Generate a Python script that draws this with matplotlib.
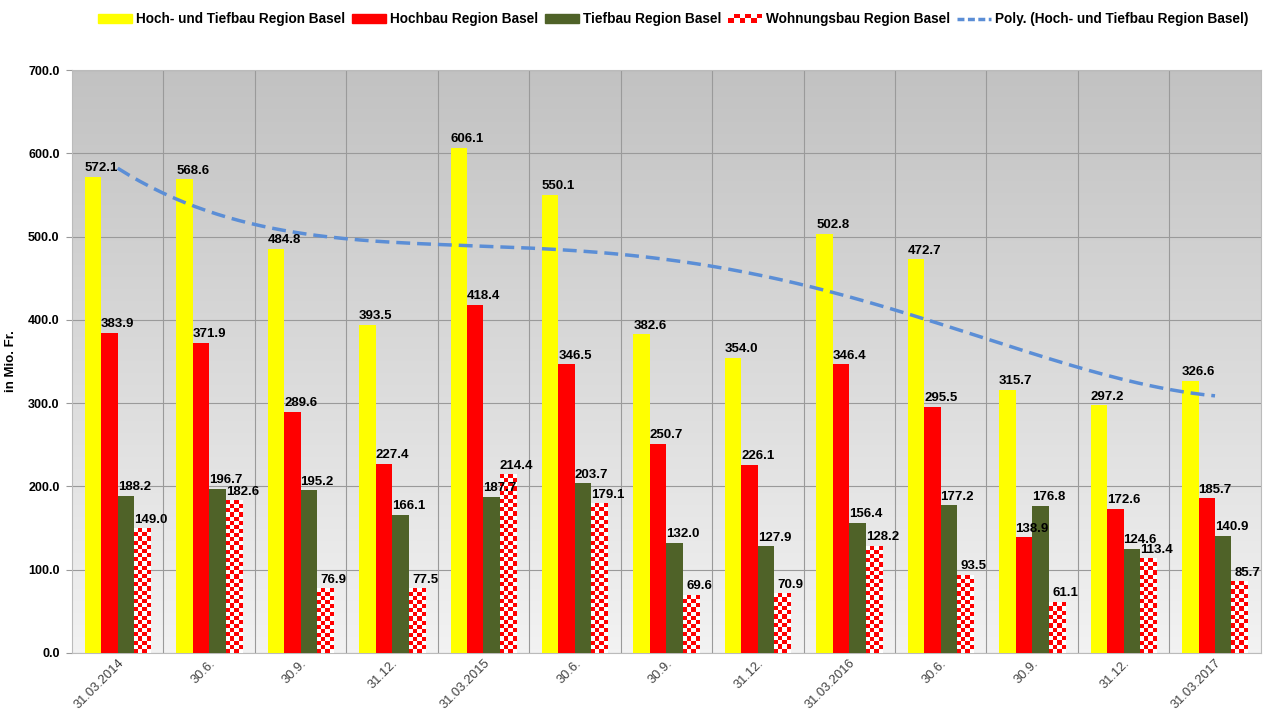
import numpy as np
import matplotlib
matplotlib.use("Agg")
from matplotlib import pyplot as plt
from matplotlib.patches import Rectangle, Patch
from matplotlib.lines import Line2D
from matplotlib.legend_handler import HandlerBase

# chart data (Mio. Fr.)
dates = ["31.03.2014", "30.6.", "30.9.", "31.12.", "31.03.2015", "30.6.", "30.9.",
         "31.12.", "31.03.2016", "30.6.", "30.9.", "31.12.", "31.03.2017"]
hoch_tief = [572.1, 568.6, 484.8, 393.5, 606.1, 550.1, 382.6, 354.0, 502.8, 472.7, 315.7, 297.2, 326.6]
hochbau = [383.9, 371.9, 289.6, 227.4, 418.4, 346.5, 250.7, 226.1, 346.4, 295.5, 138.9, 172.6, 185.7]
tiefbau = [188.2, 196.7, 195.2, 166.1, 187.7, 203.7, 132.0, 127.9, 156.4, 177.2, 176.8, 124.6, 140.9]
wohnbau = [149.0, 182.6, 76.9, 77.5, 214.4, 179.1, 69.6, 70.9, 128.2, 93.5, 61.1, 113.4, 85.7]

series_names = ["Hoch- und Tiefbau Region Basel", "Hochbau Region Basel",
                "Tiefbau Region Basel", "Wohnungsbau Region Basel"]
trend_name = "Poly. (Hoch- und Tiefbau Region Basel)"

YELLOW = "#ffff00"
RED = "#ff0000"
GREEN = "#4f6228"
BLUE = "#5b8ed6"

plt.rcParams["font.family"] = ["Liberation Sans", "DejaVu Sans"]

fig = plt.figure(figsize=(12.7, 7.13), dpi=100)
ax = fig.add_axes([0.0567, 0.0842, 0.936, 0.8176])

x = np.arange(len(dates))
w = 0.18
offsets = [-0.27, -0.09, 0.09, 0.27]

# gray gradient background
grad = np.linspace(0.76, 0.95, 256).reshape(-1, 1)
ax.imshow(np.dstack([grad, grad, grad]), extent=(0, 1, 0, 1), transform=ax.transAxes,
          aspect="auto", zorder=0, origin="upper")

ax.bar(x + offsets[0], hoch_tief, w, color=YELLOW, zorder=3)
ax.bar(x + offsets[1], hochbau, w, color=RED, zorder=3)
ax.bar(x + offsets[2], tiefbau, w, color=GREEN, zorder=3)

# checkered bars for Wohnungsbau
px_per_unit = 0.8176 * 713 / 700.0
cell_units = (w * 0.936 * 1270 / 13) / 4 / px_per_unit
red_rgb = np.array([1.0, 0.0, 0.0])
white_rgb = np.array([1.0, 1.0, 1.0])
for xi, h in zip(x + offsets[3], wohnbau):
    nrows = max(1, int(round(h / cell_units)))
    ii, jj = np.indices((nrows, 4))
    mask = ((ii + jj) % 2 == 0)[..., None]
    img = np.where(mask, red_rgb, white_rgb)
    ax.imshow(img, extent=(xi - w / 2, xi + w / 2, 0, h), aspect="auto",
              interpolation="nearest", zorder=3, origin="lower")

# value labels
for vals, off in zip([hoch_tief, hochbau, tiefbau, wohnbau], offsets):
    for xi, v in zip(x + off, vals):
        ax.annotate(f"{v:.1f}", (xi, v), xytext=(6, 2), textcoords="offset points",
                    ha="center", va="bottom", fontsize=9.5, fontweight="bold", zorder=5)

# polynomial trend of Hoch- und Tiefbau
coef = np.polyfit(x, hoch_tief, 4)
xs = np.linspace(x[0], x[-1], 200)
ax.plot(xs, np.polyval(coef, xs), color=BLUE, linestyle=(0, (4, 2)), linewidth=2.5, zorder=4)

ax.set_xlim(-0.5, len(dates) - 0.5)
ax.set_ylim(0, 700)
ax.set_yticks(np.arange(0, 701, 100))
ax.set_yticklabels([f"{v:.1f}" for v in np.arange(0, 701, 100)], fontsize=9, fontweight="bold")
ax.set_xticks(x)
ax.set_xticklabels(dates, rotation=45, ha="right", rotation_mode="anchor", fontsize=9.3, color="#404040")
ax.tick_params(axis="y", length=4, color="#999999", pad=5)
ax.tick_params(axis="x", length=0, pad=3)
ax.set_xticks(x[:-1] + 0.5, minor=True)
ax.tick_params(axis="x", which="minor", length=0)
ax.grid(axis="y", color="#9a9a9a", linewidth=0.8, zorder=1)
ax.grid(axis="x", which="minor", color="#9a9a9a", linewidth=0.8, zorder=1)
ax.set_axisbelow(True)
ax.set_ylabel("in Mio. Fr.", fontsize=9.5, fontweight="bold", labelpad=8)
for s in ax.spines.values():
    s.set_color("#bbbbbb")


class CheckerHandler(HandlerBase):
    def create_artists(self, legend, orig_handle, xdescent, ydescent, width, height, fontsize, trans):
        arts = []
        n = 6
        cw = width / n
        ch = height / 2
        for i in range(n):
            for j in range(2):
                color = RED if (i + j) % 2 == 0 else "white"
                arts.append(Rectangle((-xdescent + i * cw, -ydescent + j * ch), cw, ch,
                                      facecolor=color, edgecolor="none", transform=trans))
        return arts


handles = [Patch(color=YELLOW), Patch(color=RED), Patch(color=GREEN), Patch(color="white"),
           Line2D([], [], color=BLUE, linestyle=(0, (2, 1)), linewidth=2.5)]
fig.legend(handles, series_names + [trend_name], loc="upper right", bbox_to_anchor=(0.993, 1.0),
           ncol=5, frameon=False, handlelength=2.5, handleheight=0.6, handletextpad=0.3,
           columnspacing=0.5, prop={"size": 9.8, "weight": "bold"},
           handler_map={handles[3]: CheckerHandler()})

fig.savefig("out.png", dpi=100)
